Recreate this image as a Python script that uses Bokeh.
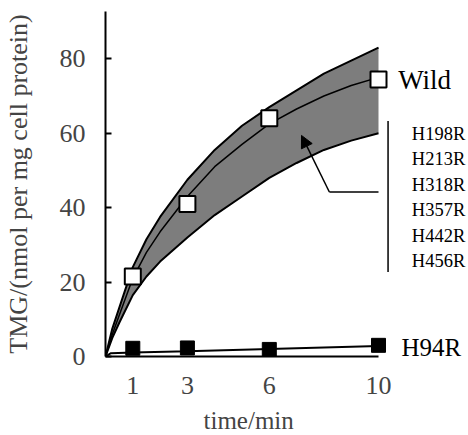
from bokeh.plotting import figure
from bokeh.models import Label, Arrow, NormalHead, FixedTicker, Range1d, Title
from bokeh.embed import file_html
from bokeh.resources import INLINE

# ---- data ----
time_ticks = [1, 3, 6, 10]

wild_x = [1, 3, 6, 10]
wild_y = [21.5, 41.0, 64.0, 74.4]

h94r_x = [1, 3, 6, 10]
h94r_y = [2.2, 2.3, 1.9, 3.0]
h94r_line_x = [0, 0.2, 1, 3, 6, 10]
h94r_line_y = [0, 0.9, 1.1, 1.4, 2.0, 2.8]

curve_x = [0, 0.25, 0.5, 1, 1.5, 2, 3, 4, 5, 6, 7, 8, 9, 10]
band_upper = [0, 7.5, 13.0, 24.0, 31.5, 37.5, 47.5, 55.5, 62.0, 67.0, 71.5, 76.0, 79.5, 83.0]
wild_fit = [0, 6.0, 11.0, 21.0, 28.0, 33.5, 43.0, 51.0, 57.0, 62.5, 66.5, 70.0, 72.8, 75.0]
band_lower = [0, 5.0, 9.0, 16.5, 21.5, 25.5, 32.0, 38.0, 43.0, 48.0, 52.0, 55.5, 58.0, 60.0]

mutants = ["H198R", "H213R", "H318R", "H357R", "H442R", "H456R"]

y_ticks = [0, 20, 40, 60, 80]

FONT = "'Liberation Serif'"

PX_PER_X = 27.3
FRAME_W = 361
p = figure(frame_width=FRAME_W, frame_height=345, output_backend="svg", toolbar_location=None,
           x_range=Range1d(0, FRAME_W / PX_PER_X), y_range=Range1d(0, 92.7),
           min_border_left=103, min_border_right=0, min_border_top=11, min_border_bottom=10)
p.outline_line_color = None
p.grid.visible = False
p.background_fill_color = "white"
p.border_fill_color = "white"

# band
p.varea(x=curve_x, y1=band_lower, y2=band_upper, fill_color="#7d7d7d")
p.line(curve_x, band_upper, line_color="black", line_width=2)
p.line(curve_x, band_lower, line_color="black", line_width=2)
p.line(curve_x, wild_fit, line_color="black", line_width=1.5)

# H94R
p.line(h94r_line_x, h94r_line_y, line_color="black", line_width=2)
p.scatter(h94r_x, h94r_y, marker="square", size=14, fill_color="black", line_color="black")

# Wild
p.scatter(wild_x, wild_y, marker="square", size=16, fill_color="white", line_color="black", line_width=2)

# arrow + bracket
bracket_x = 10.35
elbow_x, elbow_y = 8.2, 44.2
tip_x, tip_y = 7.18, 59.4
p.line([10.0, elbow_x], [elbow_y, elbow_y], line_color="black", line_width=1.5)
p.add_layout(Arrow(end=NormalHead(size=12, fill_color="black", line_color="black"),
                   x_start=elbow_x, y_start=elbow_y, x_end=tip_x, y_end=tip_y,
                   line_color="black", line_width=1.5))
p.line([bracket_x, bracket_x], [22.7, 63.3], line_color="black", line_width=1.5)

# text labels
p.add_layout(Label(x=10.72, y=wild_y[-1], text="Wild", text_font=FONT, text_font_size="27px",
                   text_baseline="middle", text_color="black"))
p.add_layout(Label(x=10.84, y=2.4, text="H94R", text_font=FONT, text_font_size="25px",
                   text_baseline="middle", text_color="black"))
start_y, step_y = 59.8, -6.85
for i, m in enumerate(mutants):
    p.add_layout(Label(x=11.22, y=start_y + i * step_y, text=m, text_font=FONT,
                       text_font_size="18.5px", text_baseline="middle", text_color="black"))

# axes
xa = p.xaxis[0]
xa.ticker = FixedTicker(ticks=time_ticks)
xa.bounds = (0, 10)
xa.axis_line_width = 2
xa.major_tick_in = 0
xa.major_tick_out = 0
xa.minor_tick_line_color = None
xa.major_label_text_font = FONT
xa.major_label_text_font_size = "26px"
xa.major_label_standoff = 20

p.add_layout(Title(text="time/min", align="left", offset=98, text_font=FONT,
                   text_font_size="25px", text_font_style="normal", standoff=17), "below")

ya = p.yaxis[0]
ya.ticker = FixedTicker(ticks=y_ticks)
ya.axis_line_width = 2
ya.major_tick_in = 6
ya.major_tick_out = 0
ya.major_tick_line_width = 2
ya.minor_tick_line_color = None
ya.major_label_text_font = FONT
ya.major_label_text_font_size = "26px"
ya.major_label_standoff = 20
ya.axis_label = "TMG/(nmol per mg cell protein)"
ya.axis_label_text_font = FONT
ya.axis_label_text_font_size = "26px"
ya.axis_label_text_font_style = "normal"
ya.axis_label_standoff = 24

open("out.html", "w").write(file_html(p, INLINE))
